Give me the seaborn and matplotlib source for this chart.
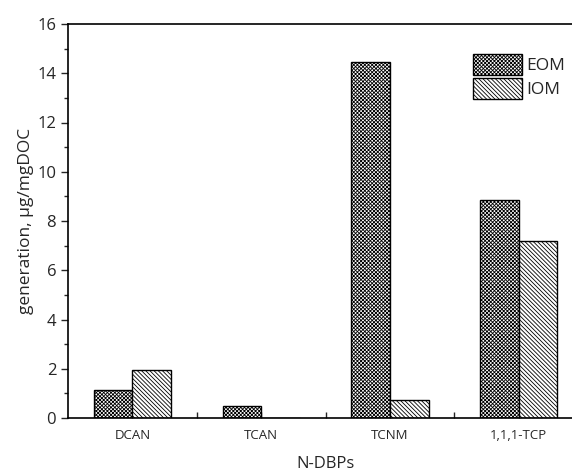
import pandas as pd
import matplotlib
matplotlib.use("Agg")
import matplotlib.pyplot as plt
import seaborn as sns
from matplotlib.patches import Patch
from matplotlib.ticker import MultipleLocator, FixedLocator

# data
compounds = ["DCAN", "TCAN", "TCNM", "1,1,1-TCP"]
eom = [1.13, 0.48, 14.45, 8.85]
iom = [1.95, 0.0, 0.73, 7.19]
series = ["EOM", "IOM"]
hatches = {"EOM": "x" * 9, "IOM": "\\" * 8}

df = pd.DataFrame({
    "compound": compounds * 2,
    "value": eom + iom,
    "source": ["EOM"] * len(compounds) + ["IOM"] * len(compounds),
})

sns.set_style("ticks")
plt.rcParams["font.family"] = ["Open Sans", "DejaVu Sans"]
plt.rcParams["hatch.linewidth"] = 0.6

fig = plt.figure(figsize=(5.72, 4.76), dpi=100)
ax = fig.add_axes([68 / 572, 58 / 476, 515 / 572, 394 / 476])

sns.barplot(data=df, x="compound", y="value", hue="source", order=compounds,
            hue_order=series, width=0.6, palette=["white", "white"],
            edgecolor="black", linewidth=1.0, legend=False, ax=ax)

# hatch each bar according to its series
n = len(compounds)
for i, bar in enumerate(ax.patches[:2 * n]):
    bar.set_hatch(hatches[series[i // n]])
    bar.set_edgecolor("black")

ax.set_ylim(0, 16)
ax.set_xlim(-0.5, 3.5)
ax.yaxis.set_major_locator(MultipleLocator(2))
ax.yaxis.set_minor_locator(MultipleLocator(1))
ax.xaxis.set_minor_locator(FixedLocator([0.5, 1.5, 2.5]))
ax.tick_params(axis="y", which="major", direction="out", length=5, width=1, labelsize=12)
ax.tick_params(axis="y", which="minor", direction="out", length=3, width=1)
ax.tick_params(axis="x", which="major", direction="in", length=4, width=1, labelsize=9.5, pad=8)
ax.tick_params(axis="x", which="minor", direction="in", length=4, width=1)

for s in ax.spines.values():
    s.set_visible(True)
    s.set_linewidth(1.2)
    s.set_color("black")

ax.set_xlabel("N-DBPs", fontsize=12, labelpad=10)
ax.set_ylabel("generation, \u03bcg/mgDOC", fontsize=12.5, labelpad=2)

handles = [Patch(facecolor="white", edgecolor="black", hatch=hatches[s], label=s) for s in series]
ax.legend(handles=handles, loc="upper left", bbox_to_anchor=(405 / 515, 0.924),
          frameon=False, fontsize=12.5, handlelength=2.8, handleheight=1.5,
          handletextpad=0.25, labelspacing=0.15, borderaxespad=0, borderpad=0)

fig.savefig("out.png", dpi=100, facecolor="white")
